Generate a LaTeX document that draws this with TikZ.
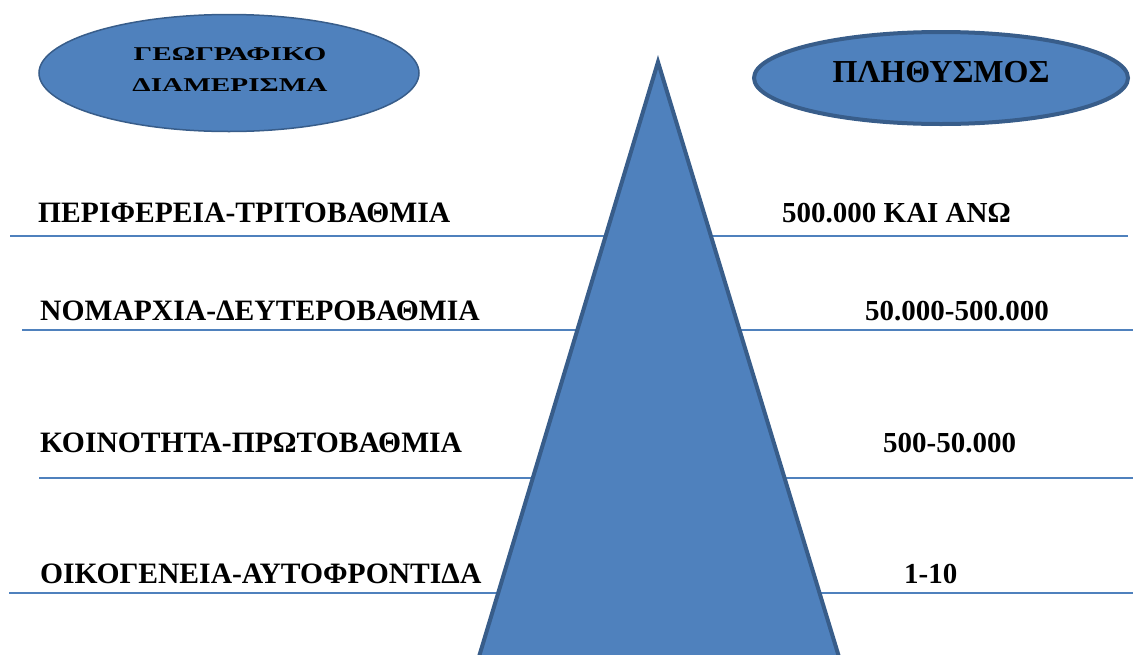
\documentclass[tikz,border=0pt]{standalone}
\usepackage{fontspec}
\setmainfont{Liberation Serif}
\usetikzlibrary{shapes.geometric}
\definecolor{fillblue}{HTML}{4F81BD}
\definecolor{edgeblue}{HTML}{385D8A}
\definecolor{lineblue}{HTML}{4F81BD}
\tikzset{
  bubble/.style={ellipse, fill=fillblue, draw=edgeblue, inner sep=0pt},
  rule/.style={draw=lineblue, line width=2pt},
  lbl/.style={inner sep=0pt, anchor=base west, font=\fontsize{29}{34}\selectfont\bfseries},
  lbll/.style={lbl, font=\fontsize{29.6}{34}\selectfont\bfseries},
  hdr/.style={inner sep=0pt, anchor=base, font=\fontsize{32}{38}\selectfont\bfseries},
  small/.style={inner sep=0pt, anchor=base, font=\fontsize{19.5}{24}\selectfont\bfseries}
}
\begin{document}
\begin{tikzpicture}[x=1pt,y=-1pt]
\useasboundingbox (0,0) rectangle (1133,654);
% horizontal rules
\coordinate (l1a) at (10,236);  \coordinate (l1b) at (1128,236);
\coordinate (l2a) at (22,330);  \coordinate (l2b) at (1133,330);
\coordinate (l3a) at (39,478);  \coordinate (l3b) at (1133,478);
\coordinate (l4a) at (9,593);   \coordinate (l4b) at (1133,593);
\draw[rule] (l1a) -- (l1b);
\draw[rule] (l2a) -- (l2b);
\draw[rule] (l3a) -- (l3b);
\draw[rule] (l4a) -- (l4b);
% pyramid
\begin{scope}
\clip (0,0) rectangle (1133,654);
\filldraw[fill=fillblue, draw=edgeblue, line width=4pt, line join=miter]
  (658,62) -- (472,680) -- (846,680) -- cycle;
\end{scope}
% ellipses
\node[bubble, line width=1.5pt, minimum width=380pt, minimum height=117pt] (geo) at (229,73) {};
\node[small] (geo1) at (230,60) {\scalebox{1.5}[1]{ΓΕΩΓΡΑΦΙΚΟ}};
\node[small] (geo2) at (230,91) {\scalebox{1.5}[1]{ΔΙΑΜΕΡΙΣΜΑ}};
\node[bubble, line width=4pt, minimum width=374pt, minimum height=92pt] (pop) at (941,78) {};
\node[hdr] (popt) at (941,82) {ΠΛΗΘΥΣΜΟΣ};
% left labels
\node[lbll] (a1) at (38,222) {ΠΕΡΙΦΕΡΕΙΑ-ΤΡΙΤΟΒΑΘΜΙΑ};
\node[lbll] (a2) at (40,320) {ΝΟΜΑΡΧΙΑ-ΔΕΥΤΕΡΟΒΑΘΜΙΑ};
\node[lbll] (a3) at (40,452) {ΚΟΙΝΟΤΗΤΑ-ΠΡΩΤΟΒΑΘΜΙΑ};
\node[lbll] (a4) at (40,583) {ΟΙΚΟΓΕΝΕΙΑ-ΑΥΤΟΦΡΟΝΤΙΔΑ};
% right labels
\node[lbl] (b1) at (782,222) {500.000 ΚΑΙ ΑΝΩ};
\node[lbl] (b2) at (865,320) {50.000-500.000};
\node[lbl] (b3) at (883,452) {500-50.000};
\node[lbl] (b4) at (904,583) {1-10};
\end{tikzpicture}
\end{document}
